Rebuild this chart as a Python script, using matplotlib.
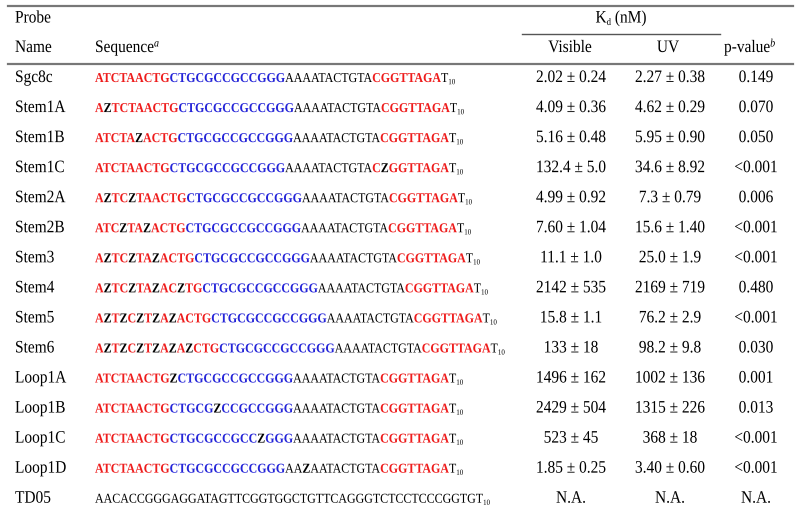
import matplotlib
matplotlib.use("Agg")
import matplotlib.pyplot as plt
from matplotlib.lines import Line2D
from matplotlib.font_manager import FontProperties, findfont
from matplotlib.transforms import Affine2D
from matplotlib.patheffects import AbstractPathEffect
from matplotlib import ft2font

# ---------------- data ----------------
names = ["Sgc8c", "Stem1A", "Stem1B", "Stem1C", "Stem2A", "Stem2B", "Stem3", "Stem4",
         "Stem5", "Stem6", "Loop1A", "Loop1B", "Loop1C", "Loop1D", "TD05"]

# segments: R = red bold, B = blue bold, Z = black bold, K = black regular
sequences = [
    "R:ATCTAACTG|B:CTGCGCCGCCGGG|K:AAAATACTGTA|R:CGGTTAGA|K:T",
    "R:A|Z:Z|R:TCTAACTG|B:CTGCGCCGCCGGG|K:AAAATACTGTA|R:CGGTTAGA|K:T",
    "R:ATCTA|Z:Z|R:ACTG|B:CTGCGCCGCCGGG|K:AAAATACTGTA|R:CGGTTAGA|K:T",
    "R:ATCTAACTG|B:CTGCGCCGCCGGG|K:AAAATACTGTA|R:C|Z:Z|R:GGTTAGA|K:T",
    "R:A|Z:Z|R:TC|Z:Z|R:TAACTG|B:CTGCGCCGCCGGG|K:AAAATACTGTA|R:CGGTTAGA|K:T",
    "R:ATC|Z:Z|R:TA|Z:Z|R:ACTG|B:CTGCGCCGCCGGG|K:AAAATACTGTA|R:CGGTTAGA|K:T",
    "R:A|Z:Z|R:TC|Z:Z|R:TA|Z:Z|R:ACTG|B:CTGCGCCGCCGGG|K:AAAATACTGTA|R:CGGTTAGA|K:T",
    "R:A|Z:Z|R:TC|Z:Z|R:TA|Z:Z|R:AC|Z:Z|R:TG|B:CTGCGCCGCCGGG|K:AAAATACTGTA|R:CGGTTAGA|K:T",
    "R:A|Z:Z|R:T|Z:Z|R:C|Z:Z|R:T|Z:Z|R:A|Z:Z|R:ACTG|B:CTGCGCCGCCGGG|K:AAAATACTGTA|R:CGGTTAGA|K:T",
    "R:A|Z:Z|R:T|Z:Z|R:C|Z:Z|R:T|Z:Z|R:A|Z:Z|R:A|Z:Z|R:CTG|B:CTGCGCCGCCGGG|K:AAAATACTGTA|R:CGGTTAGA|K:T",
    "R:ATCTAACTG|Z:Z|B:CTGCGCCGCCGGG|K:AAAATACTGTA|R:CGGTTAGA|K:T",
    "R:ATCTAACTG|B:CTGCG|Z:Z|B:CCGCCGGG|K:AAAATACTGTA|R:CGGTTAGA|K:T",
    "R:ATCTAACTG|B:CTGCGCCGCC|Z:Z|B:GGG|K:AAAATACTGTA|R:CGGTTAGA|K:T",
    "R:ATCTAACTG|B:CTGCGCCGCCGGG|K:AA|Z:Z|K:AATACTGTA|R:CGGTTAGA|K:T",
    "K:AACACCGGGAGGATAGTTCGGTGGCTGTTCAGGGTCTCCTCCCGGTGT",
]
tail_subscript = "10"

kd_visible = ["2.02 ± 0.24", "4.09 ± 0.36", "5.16 ± 0.48", "132.4 ± 5.0", "4.99 ± 0.92",
              "7.60 ± 1.04", "11.1 ± 1.0", "2142 ± 535", "15.8 ± 1.1", "133 ± 18",
              "1496 ± 162", "2429 ± 504", "523 ± 45", "1.85 ± 0.25", "N.A."]
kd_uv = ["2.27 ± 0.38", "4.62 ± 0.29", "5.95 ± 0.90", "34.6 ± 8.92", "7.3 ± 0.79",
         "15.6 ± 1.40", "25.0 ± 1.9", "2169 ± 719", "76.2 ± 2.9", "98.2 ± 9.8",
         "1002 ± 136", "1315 ± 226", "368 ± 18", "3.40 ± 0.60", "N.A."]
p_values = ["0.149", "0.070", "0.050", "<0.001", "0.006", "<0.001", "<0.001", "0.480",
            "<0.001", "0.030", "0.001", "0.013", "<0.001", "<0.001", "N.A."]

# ---------------- style ----------------
FONT = "Liberation Serif"
RED = "#ee1c1c"
BLUE = "#2424d8"
SY = 1.0 / 0.88           # vertical stretch of glyphs (narrow, tall look)
MAIN_PX = 15.4            # font sizes (pixels) that set the widths
SEQ_PX = 11.95
SUB_PX = 7.0
SUP_PX = 10.0
DPI = 100

W, H = 800, 511
fig = plt.figure(figsize=(W / DPI, H / DPI), dpi=DPI)
ax = fig.add_axes([0, 0, 1, 1])
ax.set_xlim(0, W)
ax.set_ylim(H, 0)
ax.axis("off")

STYLES = {
    "R": dict(color=RED, weight="bold"),
    "B": dict(color=BLUE, weight="bold"),
    "Z": dict(color="black", weight="bold"),
    "K": dict(color="black", weight="normal"),
}


class Stretch(AbstractPathEffect):
    """Draw the glyph outlines stretched vertically about the baseline."""

    def __init__(self, sy):
        super().__init__()
        self.sy = sy

    def draw_path(self, renderer, gc, tpath, affine, rgbFace=None):
        renderer.draw_path(gc, tpath, Affine2D().scale(1.0, self.sy) + affine, rgbFace)


STRETCH = [Stretch(SY)]

try:
    NOHINT = ft2font.LoadFlags.NO_HINTING
except AttributeError:
    NOHINT = ft2font.LOAD_NO_HINTING
try:
    KERN = ft2font.Kerning.DEFAULT
except AttributeError:
    KERN = ft2font.KERNING_DEFAULT

_fonts = {}


def get_font(weight, style):
    key = (weight, style)
    if key not in _fonts:
        fp = FontProperties(family=FONT, weight=weight, style=style)
        _fonts[key] = ft2font.FT2Font(findfont(fp))
    return _fonts[key]


def text_advance(s, size, weight="normal", style="normal"):
    """advance width (pixels) of s, laid out the way text-as-path layout does"""
    font = get_font(weight, style)
    font.set_size(100, 72)
    x = 0.0
    prev = None
    for c in s:
        idx = font.get_char_index(ord(c))
        if prev is not None:
            try:
                x += font.get_kerning(prev, idx, KERN) / 64.0
            except Exception:
                pass
        g = font.load_glyph(idx, flags=NOHINT)
        x += g.linearHoriAdvance / 65536.0
        prev = idx
    return x * size / 100.0


def draw(x, y, s, size, color="black", weight="normal", style="normal", ha="left"):
    adv = text_advance(s, size, weight, style)
    if ha == "center":
        x -= adv / 2
    elif ha == "right":
        x -= adv
    ax.text(x, y, s, fontsize=size * 72.0 / DPI, family=FONT, fontweight=weight,
            fontstyle=style, color=color, ha="left", va="baseline",
            path_effects=STRETCH)
    return adv


def run_width(pieces):
    return sum(text_advance(s, size, kw.get("weight", "normal"), kw.get("style", "normal"))
               for s, size, _, kw in pieces)


def draw_run(x, y, pieces):
    for s, size, dy, kw in pieces:
        x += draw(x, y + dy, s, size, **kw)
    return x


# rules
ax.add_line(Line2D([8, 793], [6.5, 6.5], color="#777777", lw=1.6))
ax.add_line(Line2D([522, 720], [34.5, 34.5], color="#555555", lw=1.0))
ax.add_line(Line2D([8, 793], [64.5, 64.5], color="#777777", lw=1.6))

# header
hy1, hy2 = 22.5, 52
draw(15, hy1, "Probe", MAIN_PX)
draw(15, hy2, "Name", MAIN_PX)
draw_run(95, hy2, [("Sequence", MAIN_PX, 0, {}),
                   ("a", SUP_PX, -5.5, dict(style="italic"))])
kd_pieces = [("K", MAIN_PX, 0, {}), ("d", SUB_PX * 1.25, 2.5, {}), (" (nM)", MAIN_PX, 0, {})]
draw_run(621 - run_width(kd_pieces) / 2, hy1, kd_pieces)
draw(570, hy2, "Visible", MAIN_PX, ha="center")
draw(668, hy2, "UV", MAIN_PX, ha="center")
draw_run(724, hy2, [("p-value", MAIN_PX, 0, {}),
                    ("b", SUP_PX, -5.5, dict(style="italic"))])

# body rows
y0, dy = 82, 30.05
for i, name in enumerate(names):
    y = y0 + i * dy
    draw(15, y, name, MAIN_PX)
    pieces = []
    for seg in sequences[i].split("|"):
        code, txt = seg.split(":")
        pieces.append((txt, SEQ_PX, 0, STYLES[code]))
    pieces.append((tail_subscript, SUB_PX, 2.2, dict(color="black")))
    draw_run(95, y, pieces)
    draw(571, y, kd_visible[i], MAIN_PX, ha="center")
    draw(670, y, kd_uv[i], MAIN_PX, ha="center")
    draw(756, y, p_values[i], MAIN_PX, ha="center")

fig.savefig("out.png", dpi=DPI)
